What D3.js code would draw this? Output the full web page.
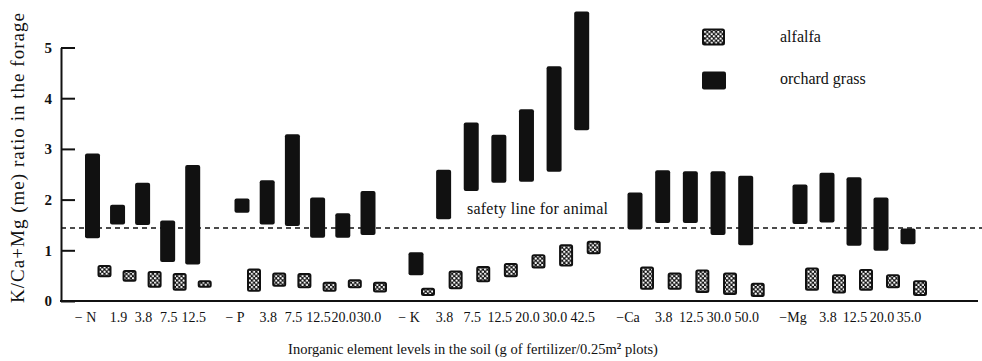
<!DOCTYPE html>
<html>
<head>
<meta charset="utf-8">
<script src="https://cdn.jsdelivr.net/npm/d3@7"></script>
<style>
  body { margin: 0; background: #fff; }
  svg { display: block; }
  svg text { font-family: "Liberation Serif", "Times New Roman", serif; fill: #111; }
</style>
</head>
<body>
<svg id="chart" width="982" height="361"></svg>
<script>
// Fertilizer levels (g / 0.25 m² plot) for each element trial
const nLevels  = ["− N", "1.9", "3.8", "7.5", "12.5"];
const pLevels  = ["− P", "3.8", "7.5", "12.5", "20.0", "30.0"];
const kLevels  = ["− K", "3.8", "7.5", "12.5", "20.0", "30.0", "42.5"];
const caLevels = ["−Ca", "3.8", "12.5", "30.0", "50.0"];
const mgLevels = ["−Mg", "3.8", "12.5", "20.0", "35.0"];

// K/(Ca+Mg) ranges [low, high] — orchard grass
const nGrass  = [[1.24, 2.91], [1.51, 1.90], [1.50, 2.33], [0.77, 1.59], [0.72, 2.68]];
const pGrass  = [[1.74, 2.02], [1.51, 2.38], [1.48, 3.29], [1.25, 2.04], [1.25, 1.73], [1.30, 2.17]];
const kGrass  = [[0.51, 0.96], [1.61, 2.59], [2.17, 3.52], [2.33, 3.28], [2.35, 3.78], [2.55, 4.63], [3.37, 5.71]];
const caGrass = [[1.41, 2.14], [1.54, 2.58], [1.54, 2.56], [1.30, 2.56], [1.10, 2.47]];
const mgGrass = [[1.52, 2.30], [1.55, 2.53], [1.09, 2.44], [0.99, 2.04], [1.12, 1.43]];

// K/(Ca+Mg) ranges [low, high] — alfalfa
const nAlfalfa  = [[0.47, 0.71], [0.38, 0.61], [0.26, 0.59], [0.20, 0.55], [0.26, 0.41]];
const pAlfalfa  = [[0.18, 0.64], [0.28, 0.56], [0.25, 0.55], [0.18, 0.38], [0.25, 0.43], [0.17, 0.38]];
const kAlfalfa  = [[0.10, 0.26], [0.23, 0.60], [0.37, 0.69], [0.47, 0.75], [0.64, 0.92], [0.68, 1.12], [0.92, 1.19]];
const caAlfalfa = [[0.22, 0.68], [0.22, 0.56], [0.16, 0.62], [0.12, 0.56], [0.08, 0.36]];
const mgAlfalfa = [[0.20, 0.66], [0.15, 0.53], [0.20, 0.63], [0.25, 0.53], [0.10, 0.41]];

const safetyLevel = 1.44;
const yTicks = [0, 1, 2, 3, 4, 5];

// Flatten the trials into one row list; an empty slot separates trials
const trials = [
  { levels: nLevels,  grass: nGrass,  alfalfa: nAlfalfa },
  { levels: pLevels,  grass: pGrass,  alfalfa: pAlfalfa },
  { levels: kLevels,  grass: kGrass,  alfalfa: kAlfalfa },
  { levels: caLevels, grass: caGrass, alfalfa: caAlfalfa },
  { levels: mgLevels, grass: mgGrass, alfalfa: mgAlfalfa }
];
const rows = [];
const trialEnds = [];
let slot = 0;
trials.forEach(t => {
  trialEnds.push(slot, slot + t.levels.length - 1);
  t.levels.forEach((label, i) => {
    rows.push({ label, first: i === 0, slot, grass: t.grass[i], alfalfa: t.alfalfa[i] });
    slot++;
  });
  slot++;
});

const serif = '"Liberation Serif", "Times New Roman", serif';
const svg = d3.select("#chart");

// Slot position: each trial is laid out evenly across its own span
const x = d3.scaleLinear()
  .domain(trialEnds)
  .range([92.5, 192.7, 242, 368, 416, 581.7, 635, 745.7, 800, 908]);
const y = d3.scaleLinear().domain([0, 5]).range([301, 47.5]);

const axisLeftX = 61;
const grassW = 15, alfW = 14, alfShift = 12;

// Stipple fill for alfalfa boxes: white dots on black
const defs = svg.append("defs");
const pat = defs.append("pattern")
  .attr("id", "stipple")
  .attr("patternUnits", "userSpaceOnUse")
  .attr("width", 4.4).attr("height", 4.4);
pat.append("rect").attr("width", 4.4).attr("height", 4.4).attr("fill", "#111");
pat.append("circle").attr("cx", 1.1).attr("cy", 1.1).attr("r", 1.15).attr("fill", "#fff");
pat.append("circle").attr("cx", 3.3).attr("cy", 3.3).attr("r", 1.15).attr("fill", "#fff");

// Y axis with inward ticks
svg.append("g")
  .attr("transform", `translate(${axisLeftX},0)`)
  .attr("font-family", serif)
  .call(d3.axisLeft(y).tickValues(yTicks).tickFormat(d3.format("d"))
    .tickSizeInner(-14).tickSizeOuter(0).tickPadding(9))
  .call(g => g.select(".domain").attr("stroke", "#111").attr("stroke-width", 2))
  .call(g => g.selectAll(".tick line").attr("stroke", "#111").attr("stroke-width", 2))
  .call(g => g.selectAll(".tick text")
    .attr("font-family", serif)
    .attr("font-size", 15).attr("font-weight", "bold").attr("fill", "#111"));

// Baseline
svg.append("line")
  .attr("x1", axisLeftX - 1).attr("x2", 978)
  .attr("y1", y(0)).attr("y2", y(0))
  .attr("stroke", "#111").attr("stroke-width", 2);

// Safety threshold
svg.append("line")
  .attr("x1", axisLeftX).attr("x2", 982)
  .attr("y1", y(safetyLevel)).attr("y2", y(safetyLevel))
  .attr("stroke", "#111").attr("stroke-width", 1.5)
  .attr("stroke-dasharray", "5,4");
svg.append("text")
  .attr("x", 467).attr("y", 213.5)
  .attr("font-family", serif)
  .attr("font-size", 16)
  .attr("textLength", 141).attr("lengthAdjust", "spacing")
  .text("safety line for animal");

// Orchard grass ranges
svg.append("g").selectAll("rect")
  .data(rows).join("rect")
  .attr("x", d => x(d.slot) - grassW / 2)
  .attr("width", grassW)
  .attr("y", d => y(d.grass[1]))
  .attr("height", d => y(d.grass[0]) - y(d.grass[1]))
  .attr("rx", 2)
  .attr("fill", "#111");

// Alfalfa ranges
svg.append("g").selectAll("rect")
  .data(rows).join("rect")
  .attr("x", d => x(d.slot) + alfShift - alfW / 2 + 1)
  .attr("width", alfW - 2)
  .attr("y", d => y(d.alfalfa[1]) + 1)
  .attr("height", d => y(d.alfalfa[0]) - y(d.alfalfa[1]) - 2)
  .attr("rx", 1.5)
  .attr("fill", "url(#stipple)")
  .attr("stroke", "#111").attr("stroke-width", 2);

// Level labels
svg.append("g").selectAll("text")
  .data(rows).join("text")
  .attr("x", d => x(d.slot) + (d.first ? -7 : 1))
  .attr("y", 322)
  .attr("text-anchor", "middle")
  .attr("font-family", serif)
  .attr("font-size", 14)
  .text(d => d.label);

// Axis titles
svg.append("text")
  .attr("transform", "translate(24,158) rotate(-90)")
  .attr("text-anchor", "middle")
  .attr("font-family", serif)
  .attr("font-size", 19)
  .attr("textLength", 290).attr("lengthAdjust", "spacing")
  .text("K/Ca+Mg (me) ratio in the forage");

const xTitle = svg.append("text")
  .attr("x", 473).attr("y", 354)
  .attr("text-anchor", "middle")
  .attr("font-family", serif)
  .attr("font-size", 14.5);
xTitle.append("tspan").text("Inorganic element levels in the soil (g of fertilizer/0.25m");
xTitle.append("tspan").attr("dy", -5).attr("font-size", 9).attr("font-weight", "bold").text("2");
xTitle.append("tspan").attr("dy", 5).text(" plots)");

// Legend
const legend = svg.append("g").attr("font-family", serif);
legend.append("rect")
  .attr("x", 703).attr("y", 29.5).attr("width", 21).attr("height", 15)
  .attr("rx", 1.5)
  .attr("fill", "url(#stipple)").attr("stroke", "#111").attr("stroke-width", 2);
legend.append("text").attr("x", 780).attr("y", 42)
  .attr("font-family", serif).attr("font-size", 16).text("alfalfa");
legend.append("rect")
  .attr("x", 702).attr("y", 71.5).attr("width", 24).attr("height", 18)
  .attr("rx", 2).attr("fill", "#111");
legend.append("text").attr("x", 780).attr("y", 84)
  .attr("font-family", serif).attr("font-size", 16).text("orchard grass");
</script>
</body>
</html>
